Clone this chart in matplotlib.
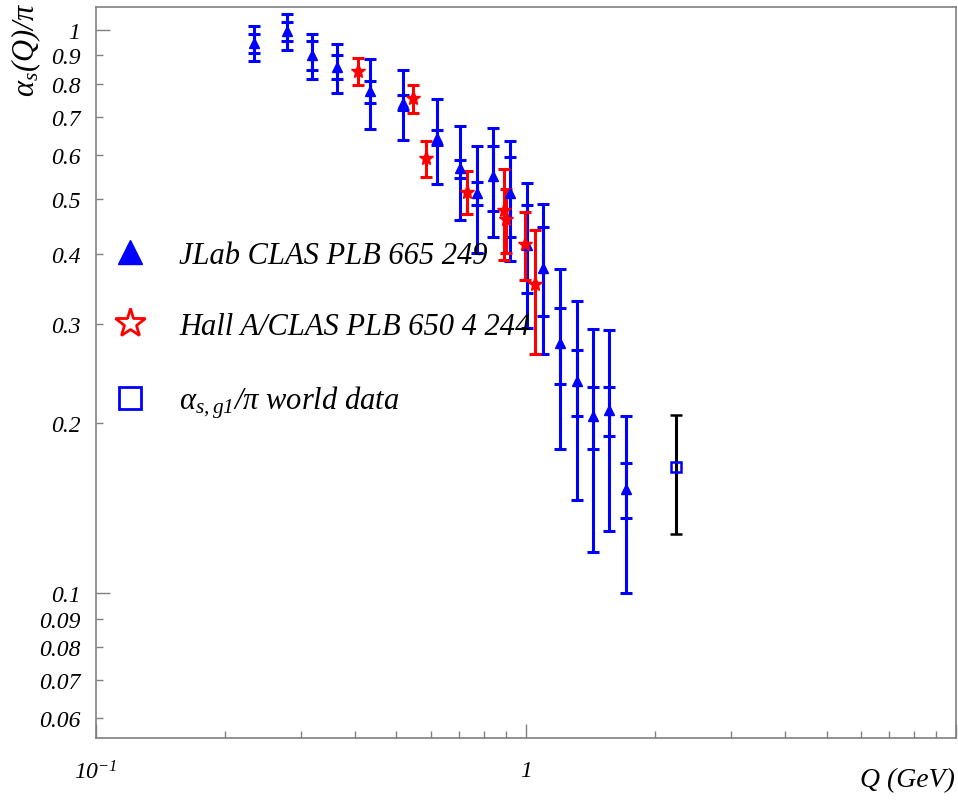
import matplotlib
matplotlib.use("Agg")
import matplotlib.pyplot as plt
from matplotlib.lines import Line2D

plt.rcParams['font.family'] = ['Liberation Serif', 'DejaVu Serif']
plt.rcParams['font.style'] = 'italic'
plt.rcParams['mathtext.fontset'] = 'custom'
plt.rcParams['mathtext.rm'] = 'Liberation Serif'
plt.rcParams['mathtext.it'] = 'Liberation Serif:italic'

# JLab CLAS PLB 665 249 : Q (GeV), alpha_s/pi, stat error, total error
clas_q = [0.233, 0.279, 0.318, 0.363, 0.435, 0.517, 0.620, 0.702, 0.771,
          0.840, 0.918, 1.004, 1.097, 1.203, 1.312, 1.432, 1.562, 1.711]
clas_val = [0.946, 0.993, 0.901, 0.859, 0.777, 0.742, 0.643, 0.567, 0.512,
            0.549, 0.512, 0.415, 0.378, 0.278, 0.238, 0.206, 0.211, 0.153]
clas_stat = [0.037, 0.037, 0.054, 0.042, 0.035, 0.023, 0.020, 0.021, 0.024,
             0.072, 0.083, 0.074, 0.068, 0.043, 0.032, 0.026, 0.021, 0.017]
clas_tot = [0.068, 0.073, 0.083, 0.086, 0.110, 0.106, 0.110, 0.108, 0.110,
            0.120, 0.123, 0.120, 0.113, 0.098, 0.092, 0.088, 0.082, 0.053]

# Hall A/CLAS PLB 650 4 244
halla_q = [0.407, 0.547, 0.585, 0.728, 0.887, 0.901, 0.995, 1.049]
halla_val = [0.844, 0.755, 0.591, 0.516, 0.478, 0.462, 0.417, 0.353]
halla_err = [0.045, 0.044, 0.043, 0.046, 0.088, 0.060, 0.057, 0.087]

# alpha_s,g1/pi world data
world_q = [2.233]
world_val = [0.167]
world_err = [0.040]

ytick_major = [0.1, 1]
ytick_major_labels = ['0.1', '1']
ytick_minor = [0.06, 0.07, 0.08, 0.09, 0.2, 0.3, 0.4, 0.5, 0.6, 0.7, 0.8, 0.9]
ytick_minor_labels = ['0.06', '0.07', '0.08', '0.09', '0.2', '0.3', '0.4',
                      '0.5', '0.6', '0.7', '0.8', '0.9']
xtick_major = [0.1, 1, 10]
xtick_major_labels = [r'$\mathit{10}^{\mathit{-1}}$', '1', '']
xtick_minor = [0.2, 0.3, 0.4, 0.5, 0.6, 0.7, 0.8, 0.9, 2, 3, 4, 5, 6, 7, 8, 9]

fig = plt.figure(figsize=(9.58, 8.03), dpi=100)
ax = fig.add_axes([0.1, 0.08, 0.898, 0.91])

eb = dict(ls='none', elinewidth=2.2, capthick=2.2, capsize=4.3)
ax.errorbar(clas_q, clas_val, yerr=clas_tot, color='blue', marker='none', **eb)
ax.errorbar(clas_q, clas_val, yerr=clas_stat, color='blue', marker='^',
            ms=6.5, **eb)
ax.errorbar(halla_q, halla_val, yerr=halla_err, color='red', marker='*',
            ms=11, **eb)
ax.errorbar(world_q, world_val, yerr=world_err, color='black', marker='s',
            ms=6.5, mfc='none', mec='blue', mew=1.8, **eb)

ax.set_xscale('log')
ax.set_yscale('log')
ax.set_xlim(0.1, 10)
ax.set_ylim(0.0553, 1.097)

ax.set_yticks(ytick_major)
ax.set_yticklabels(ytick_major_labels)
ax.set_yticks(ytick_minor, minor=True)
ax.set_yticklabels(ytick_minor_labels, minor=True)
ax.set_xticks(xtick_major)
ax.set_xticklabels(xtick_major_labels)
ax.set_xticks(xtick_minor, minor=True)
ax.set_xticklabels([''] * len(xtick_minor), minor=True)

ax.tick_params(which='both', direction='in', colors='#808080',
               labelcolor='black', labelsize=17, width=1)
ax.tick_params(which='major', length=10)
ax.tick_params(which='minor', length=5)
ax.tick_params(axis='y', which='both', pad=11)
ax.tick_params(axis='x', which='both', pad=16)
for s in ax.spines.values():
    s.set_color('#808080')
    s.set_linewidth(1.2)

fig.text(0.027, 0.997, r'$\mathrm{\alpha}_{s}(Q)/\mathrm{\pi}$', rotation=90,
         ha='center', va='top', fontsize=22, style='normal')
fig.text(0.997, 0.028, 'Q (GeV)', ha='right', va='center', fontsize=20)

handles = [
    Line2D([], [], ls='none', marker='^', color='blue', ms=17),
    Line2D([], [], ls='none', marker='*', mfc='white', mec='red', mew=2, ms=22),
    Line2D([], [], ls='none', marker='s', mfc='none', mec='blue', mew=2, ms=16),
]
labels = ['JLab CLAS PLB 665 249', 'Hall A/CLAS PLB 650 4 244',
          r'$\mathrm{\alpha}_{s,g1}/\mathrm{\pi}$ world data']
ax.legend(handles, labels, loc='upper left', bbox_to_anchor=(0.022, 0.68),
          frameon=False, fontsize=22, handlelength=1.0, handletextpad=1.1,
          labelspacing=1.38, borderpad=0, borderaxespad=0)

fig.savefig('out.png', dpi=100)
